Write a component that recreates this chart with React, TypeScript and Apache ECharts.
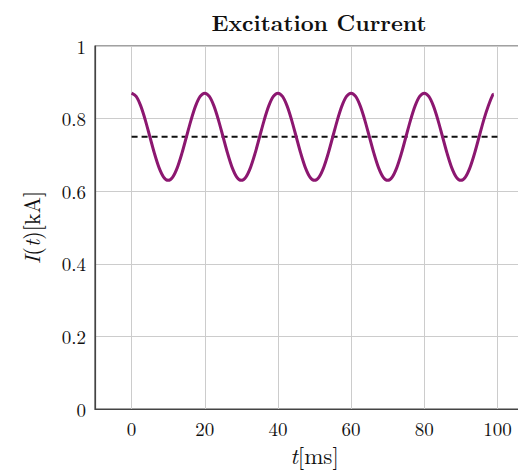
import React, { useEffect, useRef } from "react";
import * as echarts from "echarts";

// Sample times [ms] (1.25 ms spacing) and excitation current [kA]
const timeMs = [
  0, 1.25, 2.5, 3.75, 5, 6.25, 7.5, 8.75, 10, 11.25, 12.5, 13.75, 15, 16.25, 17.5, 18.75,
  20, 21.25, 22.5, 23.75, 25, 26.25, 27.5, 28.75, 30, 31.25, 32.5, 33.75, 35, 36.25, 37.5, 38.75,
  40, 41.25, 42.5, 43.75, 45, 46.25, 47.5, 48.75, 50, 51.25, 52.5, 53.75, 55, 56.25, 57.5, 58.75,
  60, 61.25, 62.5, 63.75, 65, 66.25, 67.5, 68.75, 70, 71.25, 72.5, 73.75, 75, 76.25, 77.5, 78.75,
  80, 81.25, 82.5, 83.75, 85, 86.25, 87.5, 88.75, 90, 91.25, 92.5, 93.75, 95, 96.25, 97.5, 98.75, 99,
];
const currentKA = [
  0.87, 0.861, 0.835, 0.796, 0.75, 0.704, 0.665, 0.639, 0.63, 0.639, 0.665, 0.704, 0.75, 0.796, 0.835, 0.861,
  0.87, 0.861, 0.835, 0.796, 0.75, 0.704, 0.665, 0.639, 0.63, 0.639, 0.665, 0.704, 0.75, 0.796, 0.835, 0.861,
  0.87, 0.861, 0.835, 0.796, 0.75, 0.704, 0.665, 0.639, 0.63, 0.639, 0.665, 0.704, 0.75, 0.796, 0.835, 0.861,
  0.87, 0.861, 0.835, 0.796, 0.75, 0.704, 0.665, 0.639, 0.63, 0.639, 0.665, 0.704, 0.75, 0.796, 0.835, 0.861,
  0.87, 0.861, 0.835, 0.796, 0.75, 0.704, 0.665, 0.639, 0.63, 0.639, 0.665, 0.704, 0.75, 0.796, 0.835, 0.866, 0.867,
];
// Mean level (dashed)
const meanTimes = [0, 100];
const meanLevel = [0.75, 0.75];

const xTicks = [0, 20, 40, 60, 80, 100];
const yTicks = [0, 0.2, 0.4, 0.6, 0.8, 1];

const SERIF = "'Latin Modern Roman', 'CMU Serif', 'Liberation Serif', 'DejaVu Serif', serif";

export default function App() {
  const ref = useRef<HTMLDivElement>(null);

  useEffect(() => {
    if (!ref.current) return;
    const chart = echarts.init(ref.current, undefined, { renderer: "svg" });
    const option: echarts.EChartsOption = {
      animation: false,
      backgroundColor: "#ffffff",
      title: {
        text: "Excitation Current",
        left: 314,
        top: 5,
        textAlign: "center",
        textStyle: {
          fontFamily: SERIF,
          fontWeight: "bold",
          fontSize: 22.5,
          color: "#111",
        },
      },
      grid: {
        left: 95,
        top: 46,
        bottom: 60,
        right: 6,
        show: true,
        borderColor: "#444",
        borderWidth: 1.2,
        backgroundColor: "transparent",
      },
      xAxis: {
        type: "value",
        min: -10,
        max: 110,
        interval: 10,
        name: "{i|t}{n|[ms]}",
        nameLocation: "middle",
        nameGap: 34,
        nameTextStyle: {
          rich: {
            i: { fontFamily: SERIF, fontStyle: "italic", fontSize: 23, color: "#111" },
            n: { fontFamily: SERIF, fontSize: 23, color: "#111" },
          },
        },
        axisLine: { show: true, onZero: false, lineStyle: { color: "#444", width: 1.2 } },
        axisTick: { show: false },
        // vertical grid lines are drawn only at the labelled ticks (see markLine below)
        splitLine: { show: false },
        axisLabel: {
          margin: 10,
          fontFamily: SERIF,
          fontSize: 19,
          color: "#111",
          formatter: (v: number) => (xTicks.includes(v) ? String(v) : ""),
        },
      },
      yAxis: {
        type: "value",
        min: 0,
        max: 1,
        interval: 0.2,
        name: "{i|I}{n|(}{i|t}{n|)[kA]}",
        nameLocation: "middle",
        nameGap: 54,
        nameRotate: 90,
        nameTextStyle: {
          rich: {
            i: { fontFamily: SERIF, fontStyle: "italic", fontSize: 22, color: "#111" },
            n: { fontFamily: SERIF, fontSize: 22, color: "#111" },
          },
        },
        axisLine: { show: true, onZero: false, lineStyle: { color: "#444", width: 1.2 } },
        axisTick: { show: false },
        splitLine: { show: true, lineStyle: { color: "#cccccc", width: 1 } },
        axisLabel: {
          margin: 9,
          fontFamily: SERIF,
          fontSize: 19,
          color: "#111",
          formatter: (v: number) => {
            const t = yTicks.find((y) => Math.abs(y - v) < 1e-9);
            return t === undefined ? "" : String(t);
          },
        },
      },
      series: [
        {
          type: "line",
          data: meanTimes.map((t, i) => [t, meanLevel[i]]),
          showSymbol: false,
          lineStyle: { color: "#111", width: 1.8, type: [6, 4] },
          z: 2,
          markLine: {
            silent: true,
            symbol: "none",
            label: { show: false },
            lineStyle: { color: "#cccccc", width: 1, type: "solid" },
            z: 1,
            data: xTicks.map((v) => ({ xAxis: v })),
          },
        },
        {
          type: "line",
          data: timeMs.map((t, i) => [t, currentKA[i]]),
          smooth: 0.3,
          showSymbol: false,
          lineStyle: { color: "#8c1770", width: 3 },
          z: 3,
        },
      ],
    };
    chart.setOption(option);
    return () => chart.dispose();
  }, []);

  return (
    <div style={{ position: "fixed", left: 0, top: 0, width: 518, height: 471, overflow: "hidden" }}>
      <div ref={ref} style={{ width: 540, height: 471 }} />
    </div>
  );
}
